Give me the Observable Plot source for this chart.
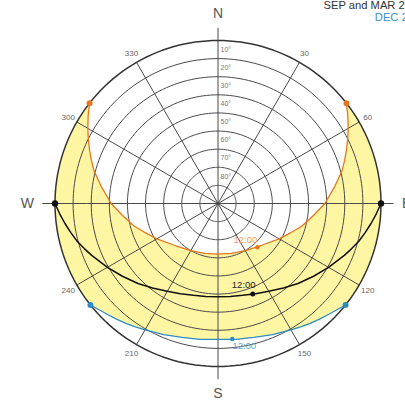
<!DOCTYPE html>
<html><head><meta charset="utf-8">
<script src="https://cdn.jsdelivr.net/npm/d3@7"></script>
<script src="https://cdn.jsdelivr.net/npm/@observablehq/plot@0.6"></script>
<style>
html,body{margin:0;padding:0;background:#fff;overflow:hidden}
#chart{position:relative;width:405px;height:400px;overflow:hidden;font-family:"Liberation Sans",Arial,sans-serif}
.legend{position:absolute;white-space:nowrap;font-size:11.2px;line-height:12px}
</style></head><body><div id="chart"></div>
<script>
// ---- data (azimuth in degrees clockwise from north, altitude in degrees) ----
const ringAltitudes = [10, 20, 30, 40, 50, 60, 70, 80];
const ringLabels = ["10°", "20°", "30°", "40°", "50°", "60°", "70°", "80°"];
const spokeAzimuths = [30, 60, 120, 150, 210, 240, 300, 330];
const azimuthLabels = ["30", "60", "120", "150", "210", "240", "300", "330"];
const compassAzimuths = [0, 90, 180, 270];
const compassLabels = ["N", "E", "S", "W"];
const legendLabels = ["SEP and MAR 21", "DEC 21"];

const junePath = [[52,0],[60,7],[75,19],[90,31],[105,42],[120,51],[135,57],[150,60],[165,61.5],[180,62],
  [195,61.5],[210,60],[225,57],[240,51],[255,42],[270,31],[285,19],[300,7],[308,0]];
const equinoxPath = [[90,0],[105,9.5],[120,19.5],[135,27.5],[150,34],[165,37.5],[180,38.5],
  [195,37.5],[210,34],[225,27.5],[240,19.5],[255,9.5],[270,0]];
const decemberPath = [[128.5,0],[135,3.5],[150,9.5],[165,13.5],[180,15],[195,13.5],[210,9.5],[225,3.5],[231.5,0]];
const noonJune = [[138, 57.5]];
const noonEquinox = [[159, 36.5]];
const noonDecember = [[174, 14.8]];
const noonLabel = "12:00";

// ---- helpers ----
const lon = az => 180 - az;  // azimuth -> longitude for a pole-centred projection
const FONT = '"Liberation Sans", Arial, sans-serif';
const ORANGE = "#e8761e", BLACK = "#111", BLUE = "#2f8cc3", GRID = "#4a4a4a";

// yellow region: June path, west horizon, December path (reversed), east horizon
let ring = [
  ...junePath.map(([a, h]) => [lon(a), h]),
  ...decemberPath.slice().reverse().map(([a, h]) => [lon(a), h]),
];
ring.push(ring[0]);
let band = {type: "Polygon", coordinates: [ring]};
if (d3.geoArea(band) > 2 * Math.PI) band = {type: "Polygon", coordinates: [ring.slice().reverse()]};

const ends = p => [p[0], p[p.length - 1]];

const chart = Plot.plot({
  width: 405,
  height: 400,
  marginLeft: 54.5,
  marginRight: 24.5,
  marginTop: 40,
  marginBottom: 34,
  style: {fontFamily: FONT, background: "transparent"},
  projection: {
    type: "azimuthal-equidistant",
    rotate: [0, -90],
    domain: d3.geoCircle().center([0, 90]).radius(90)(),
    inset: 0,
    clip: false
  },
  marks: [
    Plot.geo([band], {fill: "#fff6a4", stroke: "none"}),
    Plot.geo(ringAltitudes, {geometry: a => d3.geoCircle().center([0, 90]).radius(90 - a).precision(2)(), stroke: GRID, strokeWidth: 1}),
    Plot.link(spokeAzimuths, {x1: a => lon(a), y1: () => 0, x2: a => lon(a), y2: () => 90, stroke: GRID, strokeWidth: 1}),
    Plot.link(compassAzimuths, {x1: a => lon(a), y1: () => -7, x2: a => lon(a), y2: () => 90, stroke: GRID, strokeWidth: 1}),
    Plot.geo([0], {geometry: () => d3.geoCircle().center([0, 90]).radius(90).precision(2)(), stroke: "#333", strokeWidth: 1.5}),
    Plot.line(junePath, {x: d => lon(d[0]), y: d => d[1], stroke: ORANGE, strokeWidth: 1.3}),
    Plot.line(equinoxPath, {x: d => lon(d[0]), y: d => d[1], stroke: BLACK, strokeWidth: 1.5}),
    Plot.line(decemberPath, {x: d => lon(d[0]), y: d => d[1], stroke: BLUE, strokeWidth: 1.3}),
    Plot.dot(ends(junePath), {x: d => lon(d[0]), y: d => d[1], r: 3, fill: ORANGE}),
    Plot.dot(ends(equinoxPath), {x: d => lon(d[0]), y: d => d[1], r: 3.2, fill: BLACK}),
    Plot.dot(ends(decemberPath), {x: d => lon(d[0]), y: d => d[1], r: 3, fill: BLUE}),
    Plot.dot(noonJune, {x: d => lon(d[0]), y: d => d[1], r: 2.3, fill: ORANGE}),
    Plot.dot(noonEquinox, {x: d => lon(d[0]), y: d => d[1], r: 2.5, fill: BLACK}),
    Plot.dot(noonDecember, {x: d => lon(d[0]), y: d => d[1], r: 2.3, fill: BLUE}),
    Plot.text(noonJune, {x: d => lon(d[0]), y: d => d[1], text: () => noonLabel, dx: -12, dy: -7, fontSize: 9.5, fill: "#f0a060"}),
    Plot.text(noonEquinox, {x: d => lon(d[0]), y: d => d[1], text: () => noonLabel, dx: -9, dy: -9, fontSize: 9.5, fill: "#222"}),
    Plot.text(noonDecember, {x: d => lon(d[0]), y: d => d[1], text: () => noonLabel, dx: 12, dy: 7, fontSize: 9.5, fill: "#5aa8d6"}),
    Plot.text(ringAltitudes, {x: () => 180, y: a => a - 5, text: (a, i) => ringLabels[i], textAnchor: "start", dx: 2.5, fontSize: 7, fill: "#777"}),
    Plot.text(spokeAzimuths, {x: a => lon(a), y: () => -5.5, text: (a, i) => azimuthLabels[i], fontSize: 8, fill: "#666"}),
    Plot.text([0, 2], {x: i => lon(compassAzimuths[i]), y: () => -15, text: i => compassLabels[i], fontSize: 14, fill: "#555"}),
    Plot.text([3], {x: i => lon(compassAzimuths[i]), y: () => -11.6, text: i => compassLabels[i], textAnchor: "end", fontSize: 14, fill: "#555"}),
    Plot.text([1], {x: i => lon(compassAzimuths[i]), y: () => -11.6, text: i => compassLabels[i], textAnchor: "start", fontSize: 14, fill: "#555"})
  ]
});
const root = document.getElementById("chart");
root.appendChild(chart);
const legColors = ["#333", "#3a93c8"];
const legTops = [-1, 11];
const legRights = [-6, -9];
legendLabels.forEach((t, i) => {
  const d = document.createElement("div");
  d.className = "legend";
  d.textContent = t;
  d.style.color = legColors[i];
  d.style.top = legTops[i] + "px";
  d.style.right = legRights[i] + "px";
  root.appendChild(d);
});
</script></body></html>
